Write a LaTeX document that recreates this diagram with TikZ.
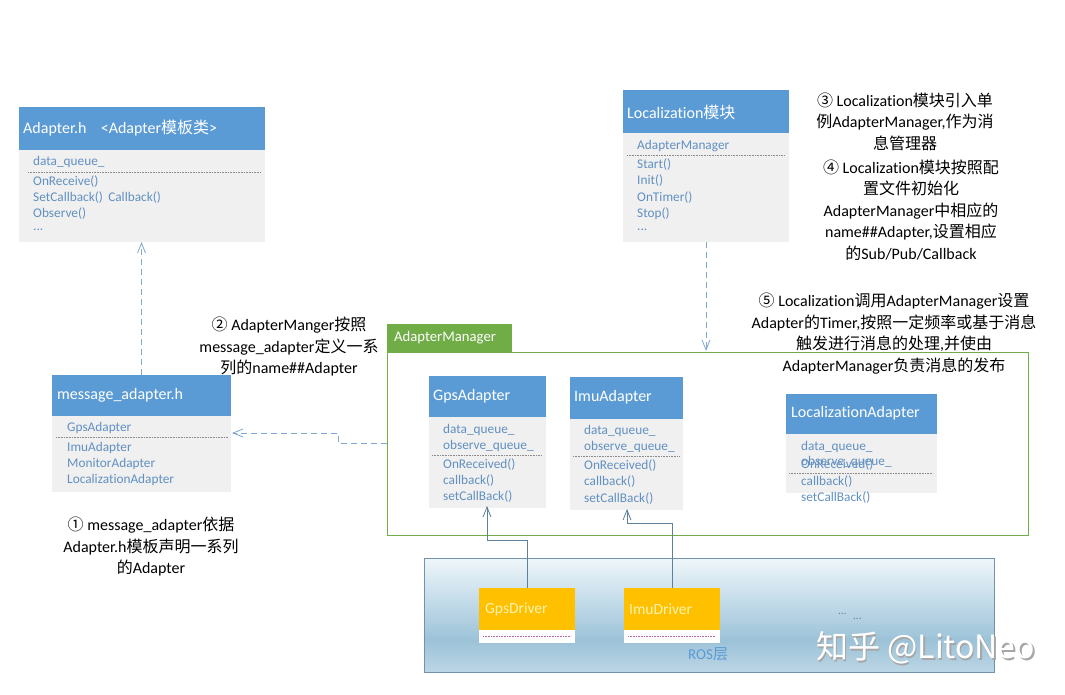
\documentclass[tikz,border=0pt]{standalone}
\usepackage{fontspec}
\setmainfont{Carlito}[Ligatures=NoCommon]
\newfontfamily\cjk{Noto Sans CJK SC}
\usetikzlibrary{arrows.meta}
\definecolor{hdrblue}{HTML}{5B9BD5}
\definecolor{bodygray}{HTML}{F0F0F0}
\definecolor{bodytext}{HTML}{6190C2}
\definecolor{mgrgreen}{HTML}{70AD47}
\definecolor{drvyellow}{HTML}{FFC000}
\definecolor{drvtext}{HTML}{FFF3B0}
\definecolor{arrowblue}{HTML}{7FA8D2}
\definecolor{linkgray}{HTML}{5E8098}
\definecolor{sepgray}{HTML}{8A8A8A}
\definecolor{rosTop}{HTML}{EFF6FA}
\definecolor{rosMid}{HTML}{C6DDEA}
\definecolor{rosDark}{HTML}{9CC2D8}
\definecolor{rosBot}{HTML}{BCD6E5}
\definecolor{rosEdge}{HTML}{7393AB}
\pgfdeclareverticalshading{rosshade}{100bp}{color(0bp)=(rosBot); color(25bp)=(rosBot); color(39bp)=(rosDark); color(57bp)=(rosMid); color(75bp)=(rosTop); color(100bp)=(rosTop)}
\tikzset{
  boxbase/.style={inner sep=0, outer sep=0, anchor=north west},
  hdrbox/.style={boxbase, fill=hdrblue},
  bodybox/.style={boxbase, fill=bodygray},
  ht/.style={anchor=west, inner sep=0, text=white, font=\fontsize{16}{18}\selectfont},
  bt/.style={anchor=west, inner sep=0, text=bodytext, font=\fontsize{13.3}{15}\selectfont},
  sep/.style={sepgray, densely dotted, line width=0.6pt},
  anno/.style={align=center, inner sep=0, font=\fontsize{16}{21.5}\selectfont},
  dasharrow/.style={arrowblue, line width=0.8pt, dash pattern=on 6pt off 4pt, -{Straight Barb[length=10pt,width=8pt]}},
  linkarrow/.style={linkgray, line width=0.8pt, -{Straight Barb[length=10pt,width=8pt]}},
}
\begin{document}
\begin{tikzpicture}[x=1pt,y=-1pt]
\useasboundingbox (0,0) rectangle (1065,695);
\fill[white] (0,0) rectangle (1065,695);

% ---------- ROS layer ----------
\node[boxbase, shading=rosshade, draw=rosEdge, line width=0.8pt, minimum width=570, minimum height=114] (ros) at (424,558) {};
\node[anchor=west, inner sep=0, text=hdrblue, font=\fontsize{15}{17}\selectfont] (roslabel) at (688,654) {ROS{\cjk 层}};
\node[anchor=west, inner sep=0, text=linkgray, font=\fontsize{11}{13}\selectfont] (dotsA) at (838,614) {...};
\node[anchor=west, inner sep=0, text=linkgray, font=\fontsize{11}{13}\selectfont] (dotsB) at (853,619) {...};

% drivers
\node[boxbase, fill=white, minimum width=96, minimum height=55] (gpsDrvBody) at (479,588) {};
\node[boxbase, fill=drvyellow, minimum width=96, minimum height=42] (gpsDrv) at (479,588) {};
\node[anchor=west, inner sep=0, text=drvtext, font=\fontsize{15.5}{17}\selectfont] (gpsDrvT) at (485,609) {GpsDriver};
\draw[violet!60, densely dotted, line width=0.6pt] (483,636) -- (571,636);
\node[boxbase, fill=white, minimum width=96, minimum height=55] (imuDrvBody) at (624,588) {};
\node[boxbase, fill=drvyellow, minimum width=96, minimum height=42] (imuDrv) at (624,588) {};
\node[anchor=west, inner sep=0, text=drvtext, font=\fontsize{15.5}{17}\selectfont] (imuDrvT) at (629,609) {ImuDriver};
\draw[violet!60, densely dotted, line width=0.6pt] (628,636) -- (716,636);

% watermark
\node[anchor=west, inner sep=0, text=gray!70, font=\cjk\fontsize{32}{34}\selectfont] (wmShadow) at (817.5,649.5) {知乎 @LitoNeo};
\node[anchor=west, inner sep=0, text=white, font=\cjk\fontsize{32}{34}\selectfont] (wm) at (816,648) {知乎 @LitoNeo};

% ---------- AdapterManager container ----------
\node[boxbase, draw=mgrgreen, line width=0.8pt, minimum width=641, minimum height=183] (mgr) at (387,352) {};
\node[boxbase, fill=mgrgreen, minimum width=125, minimum height=28] (mgrTab) at (387,324) {};
\node[anchor=west, inner sep=0, text=white, font=\fontsize{14.7}{16}\selectfont] (mgrTabT) at (394,337.5) {AdapterManager};

% GpsAdapter
\node[hdrbox, minimum width=117, minimum height=41] (gpsHead) at (429,376) {};
\node[bodybox, minimum width=117, minimum height=91] (gpsBody) at (429,417) {};
\node[ht] (gpsHeadT) at (433,396) {GpsAdapter};
\node[bt] (g1) at (443,430) {data\_queue\_};
\node[bt] (g2) at (443,446) {observe\_queue\_};
\draw[sep] (432,455) -- (542,455);
\node[bt] (g3) at (443,465) {OnReceived()};
\node[bt] (g4) at (443,481) {callback()};
\node[bt] (g5) at (443,497) {setCallBack()};

% ImuAdapter
\node[hdrbox, minimum width=113, minimum height=42] (imuHead) at (570,377) {};
\node[bodybox, minimum width=113, minimum height=91] (imuBody) at (570,419) {};
\node[ht] (imuHeadT) at (574,397) {ImuAdapter};
\node[bt] (i1) at (584,431) {data\_queue\_};
\node[bt] (i2) at (584,447) {observe\_queue\_};
\draw[sep] (573,456) -- (679,456);
\node[bt] (i3) at (584,466) {OnReceived()};
\node[bt] (i4) at (584,482) {callback()};
\node[bt] (i5) at (584,499) {setCallBack()};

% LocalizationAdapter
\node[hdrbox, minimum width=151, minimum height=40] (locAHead) at (786,394) {};
\node[bodybox, minimum width=151, minimum height=59] (locABody) at (786,434) {};
\node[ht] (locAHeadT) at (791,413) {LocalizationAdapter};
\node[bt] (l1) at (801,447) {data\_queue\_};
\node[bt] (l2) at (801,462) {observe\_queue\_};
\node[bt] (l3) at (801,465) {OnReceived()};
\draw[sep] (789,473) -- (933,473);
\node[bt] (l4) at (801,482) {callback()};
\node[bt] (l5) at (801,498) {setCallBack()};

% ---------- Adapter.h ----------
\node[hdrbox, minimum width=246, minimum height=43] (adHead) at (19,107) {};
\node[bodybox, minimum width=246, minimum height=92] (adBody) at (19,150) {};
\node[ht] (adHeadT) at (23,128) {Adapter.h\hspace{0.9em}<Adapter{\cjk 模板类}>};
\node[bt] (a1) at (33,162) {data\_queue\_};
\draw[sep] (28,172) -- (261,172);
\node[bt] (a2) at (33,182) {OnReceive()};
\node[bt] (a3) at (33,198) {SetCallback()\hspace{0.4em}Callback()};
\node[bt] (a4) at (33,214) {Observe()};
\node[bt] (a5) at (33,230) {...};

% ---------- Localization module ----------
\node[hdrbox, minimum width=166, minimum height=43] (locHead) at (623,90) {};
\node[bodybox, minimum width=166, minimum height=109] (locBody) at (623,133) {};
\node[ht] (locHeadT) at (627,112) {Localization{\cjk 模块}};
\node[bt] (m1) at (637,146) {AdapterManager};
\draw[sep] (627,155) -- (784,155);
\node[bt] (m2) at (637,165) {Start()};
\node[bt] (m3) at (637,181) {Init()};
\node[bt] (m4) at (637,198) {OnTimer()};
\node[bt] (m5) at (637,214) {Stop()};
\node[bt] (m6) at (637,230) {...};

% ---------- message_adapter.h ----------
\node[hdrbox, minimum width=179, minimum height=41] (msgHead) at (52,375) {};
\node[bodybox, minimum width=179, minimum height=76] (msgBody) at (52,416) {};
\node[ht] (msgHeadT) at (57,395) {message\_adapter.h};
\node[bt] (s1) at (67,428) {GpsAdapter};
\draw[sep] (56,437) -- (228,437);
\node[bt] (s2) at (67,448) {ImuAdapter};
\node[bt] (s3) at (67,464) {MonitorAdapter};
\node[bt] (s4) at (67,480) {LocalizationAdapter};

% ---------- annotations ----------
\node[anno] (an1) at (151,547) {{\cjk ①} message\_adapter{\cjk 依据}\\Adapter.h{\cjk 模板声明一系列}\\{\cjk 的}Adapter};
\node[anno] (an2) at (289,347) {{\cjk ②} AdapterManger{\cjk 按照}\\message\_adapter{\cjk 定义一系}\\{\cjk 列的}name\#\#Adapter};
\node[anno] (an3) at (905,121.5) {{\cjk ③} Localization{\cjk 模块引入单}\\{\cjk 例}AdapterManager,{\cjk 作为消}\\{\cjk 息管理器}};
\node[anno] (an4) at (911,210) {{\cjk ④} Localization{\cjk 模块按照配}\\{\cjk 置文件初始化}\\AdapterManager{\cjk 中相应的}\\name\#\#Adapter,{\cjk 设置相应}\\{\cjk 的}Sub/Pub/Callback};
\node[anno] (an5) at (894,333.5) {{\cjk ⑤} Localization{\cjk 调用}AdapterManager{\cjk 设置}\\Adapter{\cjk 的}Timer,{\cjk 按照一定频率或基于消息}\\{\cjk 触发进行消息的处理},{\cjk 并使由}\\AdapterManager{\cjk 负责消息的发布}};

% ---------- connectors ----------
\draw[dasharrow] (msgHead.north) -- (msgHead.north |- adBody.south);
\draw[dasharrow] (locBody.south) -- ([yshift=1pt]locBody.south |- mgr.north);
\coordinate (mgrL) at (mgr.west |- 0,443);
\draw[dasharrow] (mgrL) -- ++(-49,0) -- ++(0,-10) -- ([xshift=1pt]msgBody.east |- 0,433);
\coordinate (gpsBend) at (gpsDrv.north |- 0,540);
\draw[linkarrow] (gpsDrv.north) -- (gpsBend) -- (487,540) -- ([yshift=2pt]487,508);
\coordinate (imuBend) at (imuDrv.north |- 0,523);
\draw[linkarrow] (imuDrv.north) -- (imuBend) -- (627,523) -- ([yshift=1pt]627,510);
\end{tikzpicture}
\end{document}
